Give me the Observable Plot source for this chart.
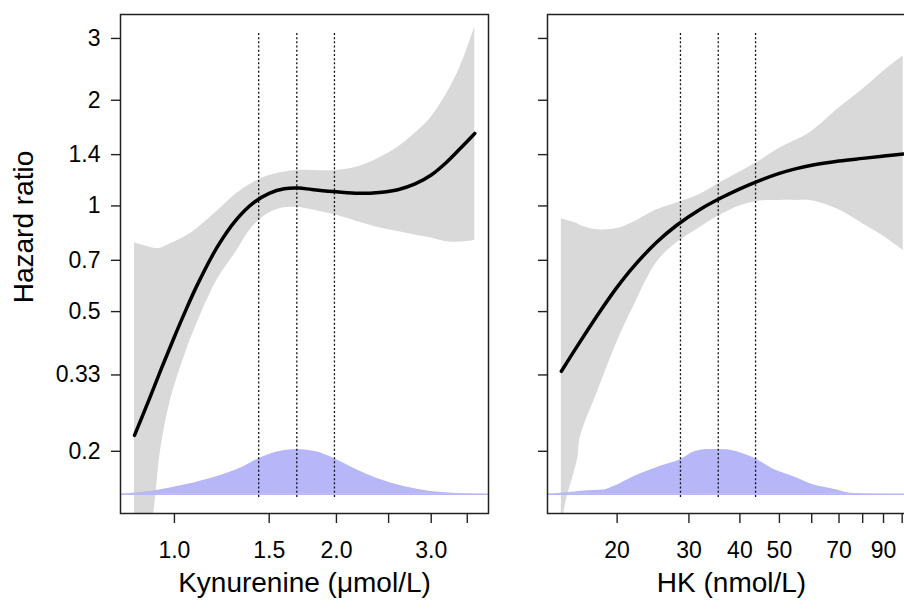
<!DOCTYPE html>
<html>
<head>
<meta charset="utf-8">
<script src="https://cdn.jsdelivr.net/npm/d3@7"></script>
<script src="https://cdn.jsdelivr.net/npm/@observablehq/plot@0.6"></script>
<style>
  html, body { margin: 0; padding: 0; background: #fff; }
  #wrap { position: relative; width: 904px; height: 609px; overflow: hidden; background: #fff; }
  #left { position: absolute; left: 0; top: 0; width: 518px; height: 609px; }
  #right { position: absolute; left: 518px; top: 0; width: 420px; height: 609px; }
  #wrap svg { max-width: none !important; display: block; }
</style>
</head>
<body>
<div id="wrap"><div id="left"></div><div id="right"></div></div>
<script>
// ---------- Axis ticks ----------
const hrTicks = [0.2, 0.33, 0.5, 0.7, 1, 1.4, 2, 3];
const hrTickLabels = ["0.2", "0.33", "0.5", "0.7", "1", "1.4", "2", "3"];
const kynTicks = [1.0, 1.5, 2.0, 2.5, 3.0, 3.5];
const kynTickLabels = ["1.0", "1.5", "2.0", "", "3.0", ""];
const hkTicks = [20, 30, 40, 50, 60, 70, 80, 90, 100];
const hkTickLabels = ["20", "30", "40", "50", "", "70", "", "90", ""];

// ---------- Kynurenine panel ----------
const kynCurveX = [0.843, 0.9, 0.95, 1.0, 1.05, 1.1, 1.2, 1.3, 1.4, 1.5, 1.6, 1.7, 1.8, 2.0, 2.2, 2.4, 2.6, 2.8, 3.0, 3.2, 3.4, 3.614];
const kynCurveHR = [0.222, 0.284, 0.350, 0.424, 0.505, 0.591, 0.762, 0.910, 1.019, 1.086, 1.119, 1.124, 1.114, 1.097, 1.086, 1.092, 1.112, 1.155, 1.225, 1.33, 1.46, 1.609];
const kynBandX = [0.843, 0.88, 0.915, 0.942, 0.983, 1.05, 1.1, 1.2, 1.3, 1.4, 1.5, 1.6, 1.7, 1.8, 2.0, 2.2, 2.4, 2.6, 2.8, 3.0, 3.2, 3.4, 3.614];
const kynBandLower = [0.07, 0.10, 0.133, 0.20, 0.279, 0.383, 0.46, 0.615, 0.737, 0.875, 0.955, 0.988, 0.99, 0.975, 0.94, 0.90, 0.866, 0.845, 0.826, 0.81, 0.79, 0.789, 0.797];
const kynBandUpper = [0.784, 0.77, 0.758, 0.758, 0.78, 0.82, 0.86, 0.965, 1.08, 1.165, 1.22, 1.25, 1.262, 1.262, 1.262, 1.295, 1.37, 1.47, 1.61, 1.79, 2.08, 2.5, 3.23];
const kynDensX = [0.794, 0.877, 1.012, 1.167, 1.345, 1.434, 1.552, 1.69, 1.842, 1.983, 2.185, 2.381, 2.668, 2.99, 3.4, 3.833];
const kynDens = [0, 0.04, 0.17, 0.35, 0.61, 0.79, 0.94, 1.0, 0.94, 0.79, 0.54, 0.35, 0.17, 0.06, 0.015, 0];
const kynRefs = [1.434, 1.688, 1.983];

// ---------- HK panel ----------
const hkCurveX = [14.6, 16, 18, 20, 22, 25, 28, 32, 36, 40, 45, 50, 55, 60, 70, 80, 90, 100.6];
const hkCurveHR = [0.338, 0.400, 0.493, 0.587, 0.674, 0.788, 0.881, 0.979, 1.055, 1.119, 1.185, 1.238, 1.277, 1.306, 1.342, 1.366, 1.387, 1.405];
const hkBandX = [14.6, 14.8, 16, 16.26, 18, 20, 22, 25, 28, 32, 36, 40, 45, 50, 55, 60, 70, 80, 90, 100.6];
const hkBandLower = [0.09, 0.133, 0.19, 0.22, 0.30, 0.41, 0.52, 0.69, 0.785, 0.87, 0.945, 1.0, 1.033, 1.037, 1.037, 1.035, 0.975, 0.89, 0.82, 0.747];
const hkBandUpper = [0.92, 0.915, 0.89, 0.88, 0.855, 0.862, 0.90, 0.975, 1.02, 1.08, 1.17, 1.25, 1.35, 1.46, 1.54, 1.63, 1.90, 2.15, 2.42, 2.68];
const hkDensX = [13.5, 15.0, 16.57, 18.55, 19.63, 21.97, 25.55, 28.6, 30.83, 33.25, 37.24, 40.13, 43.7, 48.43, 54.2, 60.7, 67.97, 74.69, 85, 100.9, 107.8];
const hkDens = [0, 0.03, 0.073, 0.095, 0.17, 0.39, 0.625, 0.77, 0.94, 1.0, 0.99, 0.92, 0.79, 0.55, 0.39, 0.205, 0.11, 0.022, 0.005, 0, 0];
const hkRefs = [28.6, 35.4, 43.7];

// ---------- shared ----------
const hrDomain = [0.133, 3.51];
const densBase = 0.151;   // hazard-ratio level of the density baseline
const densPeak = 0.2025;  // hazard-ratio level of the density peak
const refTop = 3.1, refBottom = 0.147;

const FONT = "'Liberation Sans', Arial, Helvetica, sans-serif";
const bandFill = "#d9d9d9";
const densFill = "#b6b6f8";

function panel({xDomain, xTicks, xTickLabels, xTitle, curveX, curveHR, bandX, lower, upper, densX, dens, refs, width, marginLeft, marginRight, showYLabels}) {
  const curve = curveX.map((x, i) => ({x, y: curveHR[i]}));
  const band = bandX.map((x, i) => ({x, lo: lower[i], hi: upper[i]}));
  const dd = densX.map((x, i) => ({x, d: dens[i]}));
  const marks = [
    Plot.areaY(band, {x: "x", y1: "lo", y2: "hi", fill: bandFill, curve: "catmull-rom", clip: true}),
    Plot.areaY(dd, {x: "x", y1: () => densBase, y2: d => densBase * Math.pow(densPeak / densBase, d.d), fill: densFill, curve: "monotone-x", clip: true}),
    Plot.ruleY([densBase], {stroke: densFill, strokeWidth: 1.5}),
    Plot.ruleX(refs, {x: d => d, y1: refTop, y2: refBottom, stroke: "#111", strokeWidth: 1.3, strokeDasharray: "2,2.2"}),
    Plot.line(curve, {x: "x", y: "y", stroke: "#000", strokeWidth: 3.5, strokeLinecap: "round", curve: "catmull-rom", clip: true}),
    Plot.frame({stroke: "#222", strokeWidth: 1.5}),
    Plot.axisX({ticks: xTicks, tickSize: 10, tickPadding: 18, fontSize: 23, label: null, stroke: "#222", strokeWidth: 1.4,
      tickFormat: d => xTickLabels[xTicks.indexOf(d)] ?? ""}),
    Plot.axisY({ticks: hrTicks, tickSize: 9, tickPadding: 11, fontSize: 23, label: null, stroke: "#222", strokeWidth: 1.4,
      tickFormat: d => showYLabels ? (hrTickLabels[hrTicks.indexOf(d)] ?? "") : ""}),
    Plot.text([xTitle], {text: d => d, frameAnchor: "bottom", dy: 78, fontSize: 28, textAnchor: "middle"})
  ];
  if (showYLabels) {
    marks.push(Plot.text(["Hazard ratio"], {text: d => d, frameAnchor: "left", textAnchor: "middle", rotate: -90, dx: -96, dy: -37, fontSize: 28}));
  }
  return Plot.plot({
    width, height: 609,
    marginLeft, marginRight, marginTop: 14, marginBottom: 96,
    style: {fontFamily: FONT, color: "#000", background: "transparent", overflow: "visible"},
    x: {type: "log", domain: xDomain},
    y: {type: "log", domain: hrDomain},
    marks
  });
}

document.getElementById("left").appendChild(panel({
  xDomain: [0.794, 3.833], xTicks: kynTicks, xTickLabels: kynTickLabels, xTitle: "Kynurenine (\u03bcmol/L)",
  curveX: kynCurveX, curveHR: kynCurveHR, bandX: kynBandX, lower: kynBandLower, upper: kynBandUpper,
  densX: kynDensX, dens: kynDens, refs: kynRefs, width: 518, marginLeft: 120, marginRight: 30, showYLabels: true
}));
document.getElementById("right").appendChild(panel({
  xDomain: [13.5, 107.8], xTicks: hkTicks, xTickLabels: hkTickLabels, xTitle: "HK (nmol/L)",
  curveX: hkCurveX, curveHR: hkCurveHR, bandX: hkBandX, lower: hkBandLower, upper: hkBandUpper,
  densX: hkDensX, dens: hkDens, refs: hkRefs, width: 420, marginLeft: 29, marginRight: 23, showYLabels: false
}));
</script>
</body>
</html>
